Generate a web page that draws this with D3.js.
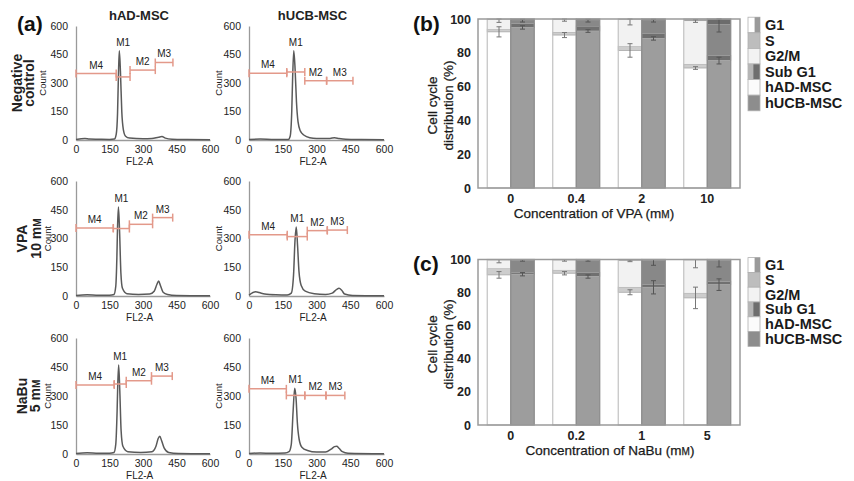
<!DOCTYPE html>
<html><head><meta charset="utf-8">
<script src="https://cdn.jsdelivr.net/npm/d3@7"></script>
<style>body{margin:0;background:#fff}svg{display:block}text{font-family:"Liberation Sans",Arial,sans-serif}</style>
</head><body><svg id="c" width="854" height="481"></svg>
<script>
// ---------- Panel (a): DNA histograms [FL2-A, Count] ----------
const histADneg = [[0,3],[40,8],[60,5],[100,4],[150,3],[172,5],[180,30],[186,140],[190,340],[194,470],[199,360],[205,150],[212,55],[222,20],[240,10],[300,6],[340,8],[370,15],[385,18],[400,10],[430,4],[500,2],[600,1]];
const histUCBneg = [[0,3],[50,5],[100,3],[150,2],[175,3],[183,20],[190,150],[194,330],[199,470],[205,370],[211,200],[218,95],[228,48],[245,25],[270,12],[300,8],[360,8],[380,12],[400,8],[430,4],[500,2],[600,1]];
const histADvpa = [[0,3],[50,6],[100,4],[150,4],[170,8],[178,50],[183,200],[186,360],[190,465],[195,340],[201,120],[208,40],[228,12],[280,8],[330,10],[350,25],[362,60],[370,78],[378,55],[390,20],[410,8],[450,3],[600,1]];
const histUCBvpa = [[0,5],[30,22],[45,18],[70,10],[120,6],[170,5],[188,15],[198,110],[204,280],[210,360],[216,260],[222,130],[232,55],[250,25],[290,12],[340,8],[370,15],[390,35],[400,40],[412,30],[425,10],[460,3],[600,1]];
const histADnabu = [[0,3],[50,6],[100,4],[150,4],[170,8],[178,50],[184,220],[187,360],[191,460],[196,330],[202,120],[210,40],[232,12],[290,8],[340,12],[358,40],[368,80],[375,92],[383,70],[395,30],[415,8],[460,3],[600,1]];
const histUCBnabu = [[0,3],[50,5],[100,4],[160,5],[178,12],[188,50],[196,220],[203,340],[209,290],[215,160],[223,75],[235,35],[260,18],[300,10],[340,10],[365,25],[380,38],[390,40],[400,30],[415,12],[440,4],[600,1]];

// gates: [name, start, end, level]
const gatesADneg = [["M4",0,180,350],["M1",180,242,332],["M2",242,355,368],["M3",355,434,408]];
const gatesUCBneg = [["M4",0,168,351],["M1",168,248,358],["M2",248,345,312],["M3",345,462,312]];
const gatesADvpa = [["M4",0,167,355],["M1",167,239,352],["M2",239,343,374],["M3",343,433,409]];
const gatesUCBvpa = [["M4",0,170,320],["M1",170,259,310],["M2",259,348,341],["M3",348,437,344]];
const gatesADnabu = [["M4",0,171,357],["M1",171,225,362],["M2",225,338,379],["M3",338,431,403]];
const gatesUCBnabu = [["M4",0,166,337],["M1",166,248,303],["M2",248,342,303],["M3",342,426,303]];

const histTicks = [0,150,300,450,600];
const colTitles = ["hAD-MSC","hUCB-MSC"];
const rowLabels = [["Negative","control"],["VPA","10 mM"],["NaBu","5 mM"]];
const phaseKeys = ["G1","S","G2M","Sub"];

// ---------- Panel (b): VPA ----------
const vpaCats = ["0","0.4","2","10"];
const vpaAD_G1 = [92.4, 90.5, 81.4, 71.0];
const vpaAD_S = [1.6, 1.8, 2.5, 2.4];
const vpaAD_G2M = [5.5, 7.2, 15.6, 25.4];
const vpaAD_Sub = [0.5, 0.5, 0.5, 1.2];
const vpaUCB_G1 = [95.0, 92.9, 88.5, 75.4];
const vpaUCB_S = [2.4, 2.9, 3.1, 3.0];
const vpaUCB_G2M = [1.6, 3.2, 7.4, 18.4];
const vpaUCB_Sub = [1.0, 1.0, 1.0, 3.2];
const vpaAD_errG1 = [3.0, 1.5, 4.0, 0.8];
const vpaAD_errTop = [1.5, 0.8, 3.0, 0.8];
const vpaUCB_errG1 = [1.0, 0.8, 1.0, 2.0];
const vpaUCB_errTop = [0.8, 0.8, 0.8, 4.5];

// ---------- Panel (c): NaBu ----------
const nabuCats = ["0","0.2","1","5"];
const nabuAD_G1 = [90.7, 91.7, 80.2, 76.8];
const nabuAD_S = [4.0, 2.0, 3.2, 3.0];
const nabuAD_G2M = [4.8, 5.8, 15.8, 19.7];
const nabuAD_Sub = [0.5, 0.5, 0.8, 0.5];
const nabuUCB_G1 = [91.1, 89.7, 83.2, 84.8];
const nabuUCB_S = [1.2, 2.6, 1.8, 2.0];
const nabuUCB_G2M = [7.2, 7.2, 14.5, 12.7];
const nabuUCB_Sub = [0.5, 0.5, 0.5, 0.5];
const nabuAD_errG1 = [2.0, 1.0, 1.5, 6.5];
const nabuAD_errTop = [1.5, 0.5, 0.5, 4.5];
const nabuUCB_errG1 = [1.0, 1.0, 4.0, 3.5];
const nabuUCB_errTop = [0.5, 0.5, 3.0, 4.0];

const barTicks = [0,20,40,60,80,100];
const legendItems = ["G1","S","G2/M","Sub G1","hAD-MSC","hUCB-MSC"];

// ======================================================
const svg = d3.select("#c");
svg.append("rect").attr("width",854).attr("height",481).attr("fill","#fff");

// ---- (a) ----
svg.append("text").attr("x",17).attr("y",31).attr("font-size",21).attr("font-weight","bold").attr("fill","#111").text("(a)");
const cols = [{x0:76,x1:210},{x0:249,x1:384}];
const rows = [{y0:140,y1:26,lb:[22,34],cnt:[46,222]},{y0:296,y1:181,lb:[27,41],cnt:[51,222]},{y0:454,y1:338,lb:[27,40],cnt:[51,222]}];
const hists = [[histADneg,histUCBneg],[histADvpa,histUCBvpa],[histADnabu,histUCBnabu]];
const gates = [[gatesADneg,gatesUCBneg],[gatesADvpa,gatesUCBvpa],[gatesADnabu,gatesUCBnabu]];

colTitles.forEach((t,i)=>{
  svg.append("text").attr("x",(cols[i].x0+cols[i].x1)/2 - 4).attr("y",20).attr("text-anchor","middle")
    .attr("font-size",13).attr("font-weight","bold").attr("fill","#222").text(t);
});

rows.forEach((r,ri)=>{
  const cy = (r.y0+r.y1)/2;
  rowLabels[ri].forEach((s,li)=>{
    const t = svg.append("text").attr("transform",`translate(${r.lb[li]},${cy}) rotate(-90)`)
      .attr("text-anchor","middle").attr("font-size",14).attr("font-weight","bold").attr("fill","#222");
    if (s.endsWith("mM")) { const n = s.slice(0,-2); t.append("tspan").text(n+"m"); t.append("tspan").attr("font-size",10).text("M"); }
    else t.text(s);
  });
  cols.forEach((c,ci)=>{
    const x = d3.scaleLinear().domain([0,600]).range([c.x0,c.x1]);
    const y = d3.scaleLinear().domain([0,600]).range([r.y0,r.y1]);
    const g = svg.append("g");
    const ax = g.append("g").attr("transform",`translate(${c.x0},0)`)
      .call(d3.axisLeft(y).tickValues(histTicks).tickSize(0).tickPadding(8));
    const bx = g.append("g").attr("transform",`translate(0,${r.y0})`)
      .call(d3.axisBottom(x).tickValues(histTicks).tickSize(0).tickPadding(6));
    [ax,bx].forEach(a=>{
      a.select(".domain").attr("stroke","#9a9a9a").attr("stroke-width",1.3);
      a.selectAll("text").attr("font-size",10.5).attr("fill","#222").attr("font-family","Liberation Sans, Arial, sans-serif");
    });
    g.append("text").attr("x",x(285)).attr("y",r.y0+25).attr("text-anchor","middle").attr("font-size",10).attr("fill","#222").text("FL2-A");
    g.append("text").attr("transform",`translate(${r.cnt[ci]},${cy}) rotate(-90)`).attr("text-anchor","middle")
      .attr("font-size",9.5).attr("fill","#222").text("Count");
    const data = hists[ri][ci];
    const line = d3.line().x(d=>x(d[0])).y(d=>y(d[1])).curve(d3.curveMonotoneX);
    g.append("path").datum(data).attr("d",line).attr("fill","none").attr("stroke","#5a5a5a").attr("stroke-width",1.5);
    const peak = d3.max(data,d=>d[1]);
    gates[ri][ci].forEach(([nm,s,e,lv])=>{
      const col = "#e3998a";
      g.append("line").attr("x1",x(s)).attr("x2",x(e)).attr("y1",y(lv)).attr("y2",y(lv)).attr("stroke",col).attr("stroke-width",1.5);
      [s,e].forEach(v=>{
        g.append("line").attr("x1",x(v)).attr("x2",x(v)).attr("y1",y(lv)-4).attr("y2",y(lv)+4).attr("stroke",col).attr("stroke-width",1.5);
      });
      let ly = y(lv)-5;
      if (nm==="M1") ly = Math.min(ly, y(peak)-5);
      g.append("text").attr("x",x((s+e)/2)).attr("y",ly).attr("text-anchor","middle").attr("font-size",10).attr("fill","#222").text(nm);
    });
  });
});

// ---- (b) and (c) ----
function barPanel(opt){
  const x = d3.scaleBand().domain(opt.cats).range([478,740]).padding(0);
  const y = d3.scaleLinear().domain([0,100]).range([opt.y0,opt.y1]);
  const g = svg.append("g");
  const bw = 23.5;
  const series = [
    {vals:opt.ad, off:-bw, fills:{G1:"#ffffff",S:"#cdcdcd",G2M:"#f2f2f2",Sub:"#a5a5a5"}, stroke:"#c2c2c2", err:[opt.adErrG1,opt.adErrTop], ec:"#777"},
    {vals:opt.ucb, off:0, fills:{G1:"#9d9d9d",S:"#707070",G2M:"#888888",Sub:"#6c6c6c"}, stroke:"#8a8a8a", err:[opt.ucbErrG1,opt.ucbErrTop], ec:"#555"}
  ];
  series.forEach(se=>{
    const table = opt.cats.map((c,i)=>({cat:c, G1:se.vals[0][i], S:se.vals[1][i], G2M:se.vals[2][i], Sub:se.vals[3][i]}));
    const stack = d3.stack().keys(phaseKeys)(table);
    stack.forEach(layer=>{
      g.selectAll(null).data(layer).enter().append("rect")
        .attr("x",d=>x(d.data.cat)+x.bandwidth()/2+se.off).attr("width",bw)
        .attr("y",d=>y(d[1])).attr("height",d=>y(d[0])-y(d[1]))
        .attr("fill",se.fills[layer.key]).attr("stroke",layer.key==="S"?"#a8a8a8":"none").attr("stroke-width",0.8);
    });
    g.selectAll(null).data(table).enter().append("rect")
      .attr("x",d=>x(d.cat)+x.bandwidth()/2+se.off).attr("width",bw)
      .attr("y",y(100)).attr("height",y(0)-y(100)).attr("fill","none").attr("stroke",se.stroke).attr("stroke-width",1.2);
    const levels = [table.map(d=>d.G1), table.map(d=>d.G1+d.S+d.G2M)];
    levels.forEach((lv,k)=>{
      lv.forEach((v,i)=>{
        const e = se.err[k][i];
        const cx = x(opt.cats[i])+x.bandwidth()/2+se.off+bw/2;
        const a = Math.max(0,v-e), b = Math.min(100,v+e);
        g.append("line").attr("x1",cx).attr("x2",cx).attr("y1",y(a)).attr("y2",y(b)).attr("stroke",se.ec).attr("stroke-width",1);
        [a,b].forEach(t=>g.append("line").attr("x1",cx-2.5).attr("x2",cx+2.5).attr("y1",y(t)).attr("y2",y(t)).attr("stroke",se.ec).attr("stroke-width",1));
      });
    });
  });
  g.append("rect").attr("x",478).attr("y",y(100)).attr("width",262).attr("height",y(0)-y(100)).attr("fill","none").attr("stroke","#9a9a9a").attr("stroke-width",1.5);
  const ay = g.append("g").attr("transform","translate(478,0)").call(d3.axisLeft(y).tickValues(barTicks).tickSize(0).tickPadding(7));
  const axb = g.append("g").attr("transform",`translate(0,${opt.y0})`).call(d3.axisBottom(x).tickSize(0).tickPadding(6));
  [ay,axb].forEach(a=>{
    a.select(".domain").remove();
    a.selectAll("text").attr("font-size",12.5).attr("font-weight","bold").attr("fill","#222").attr("font-family","Liberation Sans, Arial, sans-serif");
  });
  svg.append("text").attr("x",413).attr("y",opt.labY).attr("font-size",21).attr("font-weight","bold").attr("fill","#111").text(opt.label);
  const cy = (opt.y0+opt.y1)/2 + 2;
  [["Cell cycle",437],["distribution (%)",453]].forEach(([s,bx])=>{
    svg.append("text").attr("transform",`translate(${bx},${cy}) rotate(-90)`).attr("text-anchor","middle")
      .attr("font-size",13.5).attr("fill","#1a1a1a").attr("stroke","#1a1a1a").attr("stroke-width",0.25).text(s);
  });
  const xt = svg.append("text").attr("x",opt.titleX).attr("y",opt.y0+30).attr("text-anchor","middle").attr("font-size",13.5)
    .attr("fill","#1a1a1a").attr("stroke","#1a1a1a").attr("stroke-width",0.25);
  xt.append("tspan").text(opt.title+" (m");
  xt.append("tspan").attr("font-size",10).text("M");
  xt.append("tspan").text(")");
  const lg = svg.append("g");
  legendItems.forEach((nm,i)=>{
    const cy2 = opt.legY + i*opt.legStep;
    const sx = 748, sw = 12, sh = opt.legStep;
    const r = lg.append("rect").attr("x",sx).attr("y",cy2-sh/2).attr("width",sw).attr("height",sh).attr("stroke","#b0b0b0").attr("stroke-width",0.8);
    if (i===0){ r.attr("fill","#fff"); lg.append("rect").attr("x",sx+sw*0.55).attr("y",cy2-sh/2).attr("width",sw*0.45).attr("height",sh).attr("fill","#9a9a9a"); }
    else if (i===1) r.attr("fill","#bdbdbd");
    else if (i===2) r.attr("fill","#f2f2f2");
    else if (i===3){ r.attr("fill","#6e6e6e"); lg.append("rect").attr("x",sx).attr("y",cy2-sh/2).attr("width",sw*0.45).attr("height",sh).attr("fill","#b5b5b5"); }
    else if (i===4) r.attr("fill","#fbfbfb");
    else r.attr("fill","#8d8d8d");
    lg.append("text").attr("x",765).attr("y",cy2+5).attr("font-size",14.5).attr("font-weight","bold").attr("fill","#1a1a1a").text(nm);
  });
}

barPanel({cats:vpaCats, y0:188, y1:19,
  ad:[vpaAD_G1,vpaAD_S,vpaAD_G2M,vpaAD_Sub], ucb:[vpaUCB_G1,vpaUCB_S,vpaUCB_G2M,vpaUCB_Sub],
  adErrG1:vpaAD_errG1, adErrTop:vpaAD_errTop, ucbErrG1:vpaUCB_errG1, ucbErrTop:vpaUCB_errTop,
  label:"(b)", labY:31, title:"Concentration of VPA", titleX:594, legY:25, legStep:15.6});
barPanel({cats:nabuCats, y0:425, y1:259.5,
  ad:[nabuAD_G1,nabuAD_S,nabuAD_G2M,nabuAD_Sub], ucb:[nabuUCB_G1,nabuUCB_S,nabuUCB_G2M,nabuUCB_Sub],
  adErrG1:nabuAD_errG1, adErrTop:nabuAD_errTop, ucbErrG1:nabuUCB_errG1, ucbErrTop:nabuUCB_errTop,
  label:"(c)", labY:271, title:"Concentration of NaBu", titleX:610, legY:265, legStep:14.8});
</script></body></html>
